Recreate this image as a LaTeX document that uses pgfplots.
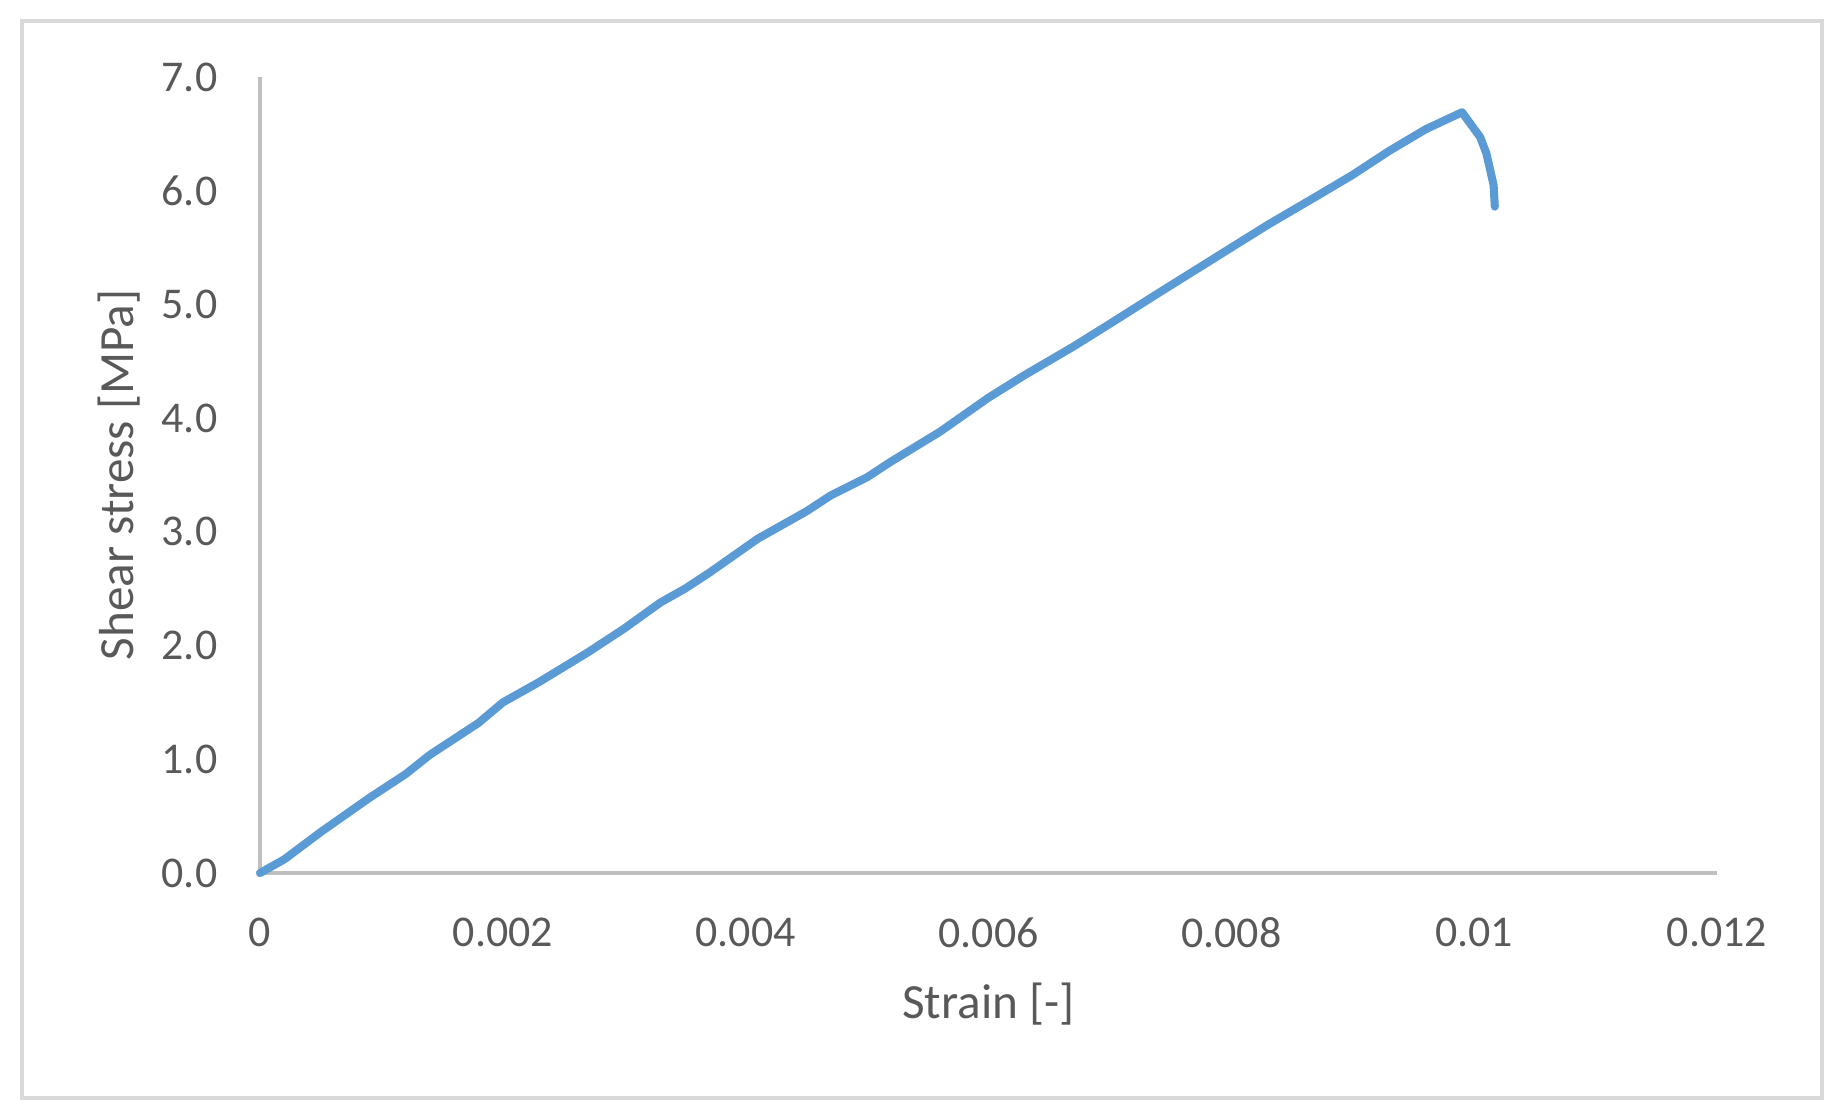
\documentclass[border=0pt]{standalone}
\usepackage{pgfplots}
\pgfplotsset{compat=1.18}
\usepackage{fontspec}
\setmainfont{Carlito}
\definecolor{txt}{HTML}{595959}
\definecolor{axl}{HTML}{BFBFBF}
\definecolor{brd}{HTML}{D9D9D9}
\definecolor{ln}{HTML}{5B9BD5}
\begin{document}
\begin{tikzpicture}
\useasboundingbox (0,0) rectangle (184.1mm,111.9mm);
\draw[brd, line width=1.1pt] (2.2mm,2.1mm) rectangle (182.2mm,109.8mm);
\begin{axis}[
  at={(26.0mm,24.6mm)}, anchor=south west,
  scale only axis, width=145.7mm, height=79.6mm,
  xmin=0, xmax=0.012, ymin=0, ymax=7,
  axis lines=left, axis line style={-, axl, line width=0.9pt},
  major tick length=0pt,
  scaled x ticks=false, scaled y ticks=false,
  xtick={0,0.002,0.004,0.006,0.008,0.01,0.012},
  xticklabels={0,0.002,0.004,0.006,0.008,0.01,0.012},
  ytick={0,1,2,3,4,5,6,7},
  yticklabels={0.0,1.0,2.0,3.0,4.0,5.0,6.0,7.0},
  xticklabel style={font=\fontsize{12.5}{14}\selectfont, text=txt, anchor=north, inner sep=0pt, yshift=-4.4mm},
  yticklabel style={font=\fontsize{12.5}{14}\selectfont, text=txt, anchor=east, inner sep=0pt, xshift=-4.2mm},
  xlabel={Strain [-]}, ylabel={Shear stress [MPa]},
  xlabel style={font=\fontsize{14}{16}\selectfont, text=txt, at={(rel axis cs:0.5,0)}, anchor=base, inner sep=0pt, yshift=-14.5mm},
  ylabel style={font=\fontsize{14}{16}\selectfont, text=txt, at={(rel axis cs:0,0.5)}, anchor=base, inner sep=0pt, yshift=12.7mm},
  clip=false,
]
\addplot[ln, line width=2.3pt, line join=round, line cap=round, no marks] coordinates {
(0,0)
(0.0002,0.12)
(0.0005,0.36)
(0.0009,0.66)
(0.0012,0.87)
(0.0014,1.04)
(0.0018,1.32)
(0.0020,1.50)
(0.0023,1.68)
(0.0027,1.94)
(0.0030,2.15)
(0.0033,2.38)
(0.0035,2.50)
(0.0037,2.64)
(0.0041,2.94)
(0.0045,3.18)
(0.0047,3.32)
(0.0050,3.48)
(0.0052,3.62)
(0.0056,3.88)
(0.0060,4.18)
(0.0063,4.38)
(0.0067,4.63)
(0.0070,4.83)
(0.0074,5.10)
(0.0077,5.30)
(0.0080,5.50)
(0.0083,5.70)
(0.0087,5.95)
(0.0090,6.14)
(0.0093,6.35)
(0.0096,6.54)
(0.0099,6.69)
(0.01005,6.47)
(0.0101,6.33)
(0.01016,6.05)
(0.01017,5.86)
};
\end{axis}
\end{tikzpicture}
\end{document}
